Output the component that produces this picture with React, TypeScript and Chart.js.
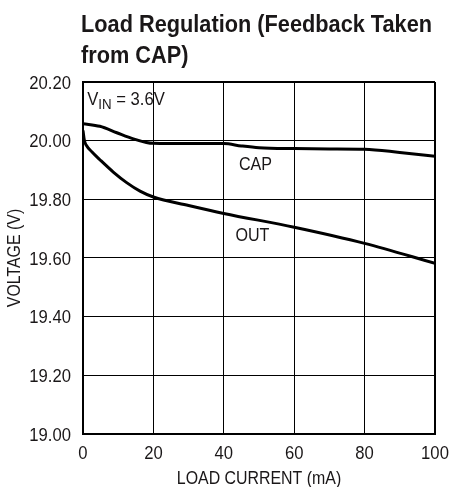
import React, { useEffect, useRef } from "react";
import { Chart, registerables } from "chart.js";

Chart.register(...registerables);

// ---- data ----
const titleLines = ["Load Regulation (Feedback Taken", "from CAP)"];
const xAxisTitle = "LOAD CURRENT (mA)";
const yAxisTitle = "VOLTAGE (V)";

const xTickValues = [0, 20, 40, 60, 80, 100];
const yTickValues = [19.0, 19.2, 19.4, 19.6, 19.8, 20.0, 20.2];

const capCurrent = [0, 4.8, 9.6, 14.3, 18, 20, 30, 40, 45, 50, 60, 70, 80, 90, 100];
const capVoltage = [20.058, 20.049, 20.027, 20.006, 19.994, 19.991, 19.99, 19.99, 19.982, 19.976, 19.973, 19.972, 19.971, 19.96, 19.947];

const outCurrent = [0, 0.4, 0.9, 2.5, 4.8, 8.6, 12.4, 16.2, 20, 30, 40, 60, 80, 100];
const outVoltage = [20.035, 20.0, 19.985, 19.962, 19.935, 19.893, 19.857, 19.828, 19.808, 19.779, 19.752, 19.705, 19.65, 19.582];

const seriesLabels = ["CAP", "OUT"];
// label anchors in data units: [current, voltage]
const capLabelAt = [44.3, 19.899];
const outLabelAt = [43.3, 19.658];
const vinLabelAt = [1.2, 20.12];

const FONT = '"Liberation Sans", Arial, sans-serif';
const TEXT = "#1a1718";

function drawText(
  ctx: CanvasRenderingContext2D,
  text: string,
  x: number,
  y: number,
  font: string,
  sx: number,
  align: CanvasTextAlign,
  baseline: CanvasTextBaseline,
  rotate = 0
) {
  ctx.save();
  ctx.translate(x, y);
  if (rotate) ctx.rotate(rotate);
  ctx.scale(sx, 1);
  ctx.font = font;
  ctx.textAlign = align;
  ctx.textBaseline = baseline;
  ctx.fillText(text, 0, 0);
  const w = ctx.measureText(text).width * sx;
  ctx.restore();
  return w;
}

const textPlugin = {
  id: "textPlugin",
  afterDraw(chart: any) {
    const ctx = chart.ctx as CanvasRenderingContext2D;
    const xs = chart.scales.x;
    const ys = chart.scales.y;
    const area = chart.chartArea;
    ctx.save();
    ctx.fillStyle = TEXT;

    // title
    drawText(ctx, titleLines[0], 81, 32, `bold 23.5px ${FONT}`, 0.925, "left", "alphabetic");
    drawText(ctx, titleLines[1], 81, 63, `bold 23.5px ${FONT}`, 0.925, "left", "alphabetic");

    // tick labels
    for (const t of ys.ticks) {
      drawText(ctx, Number(t.value).toFixed(2), area.left - 12, ys.getPixelForValue(t.value) + 6.5, `18.5px ${FONT}`, 0.9, "right", "alphabetic");
    }
    for (const t of xs.ticks) {
      drawText(ctx, String(t.value), xs.getPixelForValue(t.value), area.bottom + 25, `18.5px ${FONT}`, 0.9, "center", "alphabetic");
    }

    // axis titles
    drawText(ctx, xAxisTitle, (area.left + area.right) / 2, 484, `18.5px ${FONT}`, 0.86, "center", "alphabetic");
    drawText(ctx, yAxisTitle, 20, (area.top + area.bottom) / 2, `18.5px ${FONT}`, 0.86, "center", "alphabetic", -Math.PI / 2);

    // V_IN = 3.6V
    let x = xs.getPixelForValue(vinLabelAt[0]);
    const yb = ys.getPixelForValue(vinLabelAt[1]);
    x += drawText(ctx, "V", x, yb, `17.5px ${FONT}`, 0.95, "left", "alphabetic");
    x += drawText(ctx, "IN", x, yb + 4, `14px ${FONT}`, 0.95, "left", "alphabetic");
    drawText(ctx, " = 3.6V", x, yb, `17.5px ${FONT}`, 0.95, "left", "alphabetic");

    drawText(ctx, seriesLabels[0], xs.getPixelForValue(capLabelAt[0]), ys.getPixelForValue(capLabelAt[1]), `17.5px ${FONT}`, 0.92, "left", "alphabetic");
    drawText(ctx, seriesLabels[1], xs.getPixelForValue(outLabelAt[0]), ys.getPixelForValue(outLabelAt[1]), `17.5px ${FONT}`, 0.92, "left", "alphabetic");
    ctx.restore();
  },
};

export default function App() {
  const ref = useRef<HTMLCanvasElement | null>(null);
  useEffect(() => {
    if (!ref.current) return;
    const chart = new Chart(ref.current, {
      type: "line",
      data: {
        datasets: [
          {
            label: seriesLabels[0],
            data: capCurrent.map((c, i) => ({ x: c, y: capVoltage[i] })),
            borderColor: "#000",
            borderWidth: 3,
            pointRadius: 0,
            cubicInterpolationMode: "monotone",
          },
          {
            label: seriesLabels[1],
            data: outCurrent.map((c, i) => ({ x: c, y: outVoltage[i] })),
            borderColor: "#000",
            borderWidth: 3,
            pointRadius: 0,
            cubicInterpolationMode: "monotone",
          },
        ],
      },
      options: {
        responsive: false,
        animation: false,
        devicePixelRatio: 1,
        layout: { padding: { top: 82, right: 14, left: 0, bottom: 0 } },
        plugins: { legend: { display: false }, tooltip: { enabled: false }, title: { display: false } },
        scales: {
          x: {
            type: "linear",
            min: 0,
            max: 100,
            afterBuildTicks: (s: any) => {
              s.ticks = xTickValues.map((v) => ({ value: v }));
            },
            afterFit: (s: any) => {
              s.height = 53;
            },
            ticks: { display: false },
            grid: {
              color: "#000",
              drawTicks: false,
              lineWidth: (c: any) => (c.index === xTickValues.length - 1 ? 2 : 1),
            },
            border: { color: "#000", width: 2 },
          },
          y: {
            type: "linear",
            min: 19,
            max: 20.2,
            afterBuildTicks: (s: any) => {
              s.ticks = yTickValues.map((v) => ({ value: v }));
            },
            afterFit: (s: any) => {
              s.width = 83;
            },
            ticks: { display: false },
            grid: {
              color: "#000",
              drawTicks: false,
              lineWidth: (c: any) => (c.index === yTickValues.length - 1 ? 2 : 1),
            },
            border: { color: "#000", width: 2 },
          },
        },
      },
      plugins: [textPlugin],
    } as any);
    return () => chart.destroy();
  }, []);
  return (
    <div style={{ position: "absolute", left: 0, top: 0, width: 449, height: 487, background: "#fff" }}>
      <canvas ref={ref} width={449} height={487} style={{ display: "block" }} />
    </div>
  );
}
